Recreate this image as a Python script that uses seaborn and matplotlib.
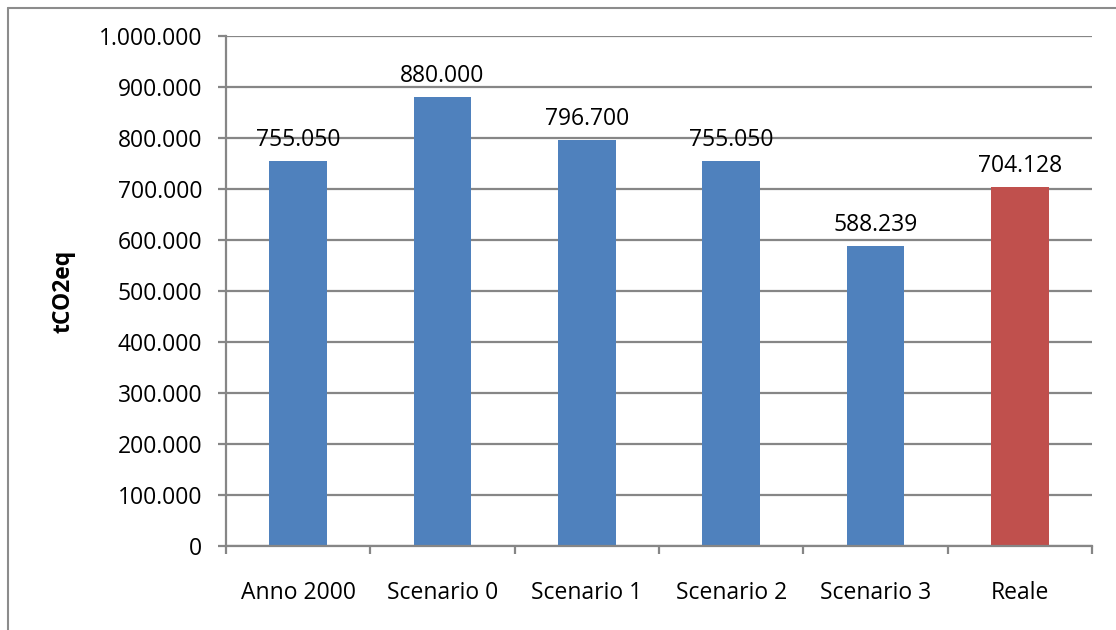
import matplotlib
matplotlib.use("Agg")
import matplotlib.pyplot as plt
from matplotlib.lines import Line2D
from matplotlib.ticker import FuncFormatter, MultipleLocator
import seaborn as sns
import pandas as pd

categories = ["Anno 2000", "Scenario 0", "Scenario 1", "Scenario 2", "Scenario 3", "Reale"]
values = [755050, 880000, 796700, 755050, 588239, 704128]
bar_colors = ["#4F81BD", "#4F81BD", "#4F81BD", "#4F81BD", "#4F81BD", "#C0504D"]
y_label = "tCO2eq"

sns.set_theme(style="white")
plt.rcParams["font.family"] = ["Open Sans", "DejaVu Sans"]

FS = 16.5
W, H = 1116, 630
fig = plt.figure(figsize=(W / 100, H / 100), dpi=100)
ax = fig.add_axes([226 / W, 1 - 546 / H, (1092 - 226) / W, (546 - 36) / H])

df = pd.DataFrame({"cat": categories, "val": values})
sns.barplot(data=df, x="cat", y="val", hue="cat", palette=bar_colors,
            legend=False, width=0.4, saturation=1, linewidth=0, ax=ax)

def dotted(v, _pos=None):
    return f"{int(round(v)):,}".replace(",", ".")

for i, v in enumerate(values):
    ax.text(i, v + 18000, dotted(v), ha="center", va="bottom",
            fontsize=FS, color="black")

ax.set_ylim(0, 1000000)
ax.set_xlim(-0.5, len(categories) - 0.5)
ax.yaxis.set_major_locator(MultipleLocator(100000))
ax.yaxis.set_major_formatter(FuncFormatter(dotted))
grid_gray = "#868686"
ax.grid(axis="y", color=grid_gray, linewidth=1.6)
ax.set_axisbelow(True)

for side in ["top", "right"]:
    ax.spines[side].set_visible(False)
for side in ["left", "bottom"]:
    ax.spines[side].set_color(grid_gray)
    ax.spines[side].set_linewidth(1.6)

# category boundaries carry the x tick marks
ax.set_xticks([i - 0.5 for i in range(len(categories) + 1)], minor=True)
ax.tick_params(axis="x", which="minor", length=6, width=1.6, color=grid_gray, direction="out", bottom=True)
ax.tick_params(axis="x", which="major", length=0, pad=25, labelsize=FS, labelcolor="black")
ax.tick_params(axis="y", which="major", length=6, width=1.6, color=grid_gray, direction="out", left=True,
               labelsize=FS, labelcolor="black", pad=11)

ax.set_xlabel("")
ax.set_ylabel(y_label, fontsize=FS, fontweight="bold", labelpad=17, color="black")

# outer chart frame
fig.add_artist(Line2D([8 / W, 8 / W], [0, 1 - 8 / H], color="#8C8C8C", linewidth=1.5))
fig.add_artist(Line2D([8 / W, 1], [1 - 8 / H, 1 - 8 / H], color="#8C8C8C", linewidth=1.5))

fig.savefig("out.png", dpi=100)
